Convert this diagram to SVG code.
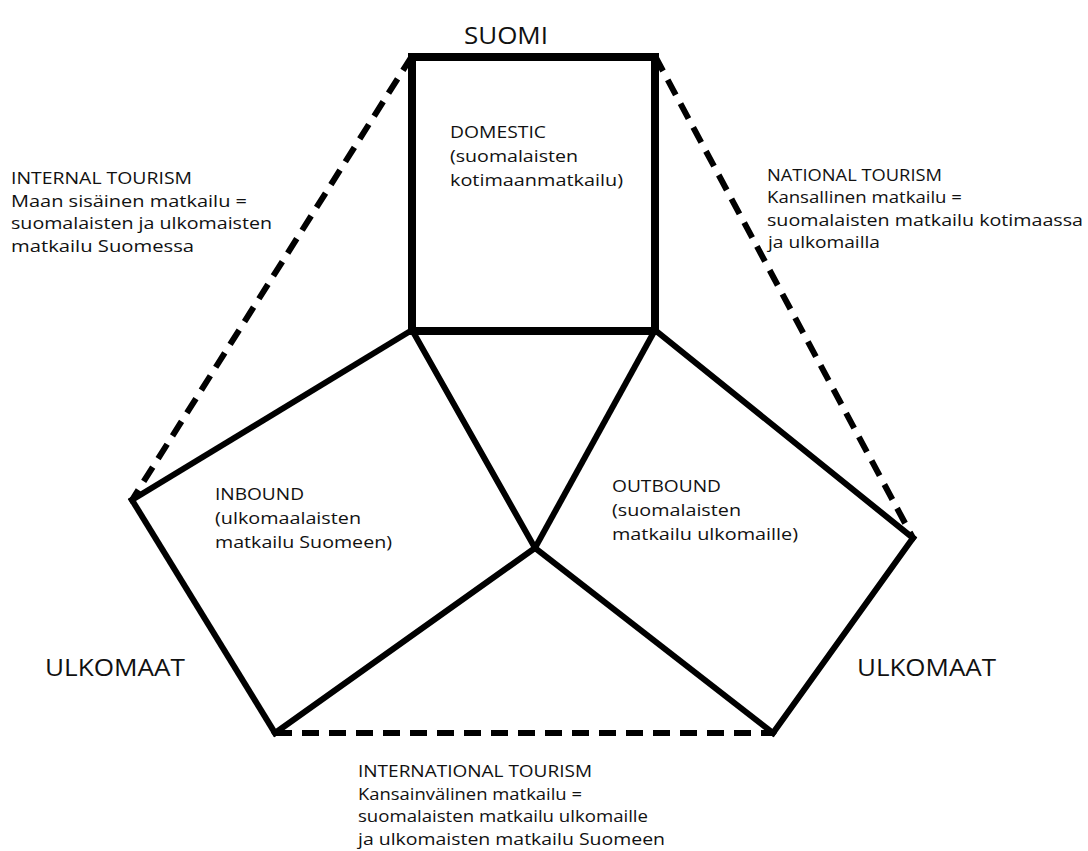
<svg xmlns="http://www.w3.org/2000/svg" width="1088" height="851" viewBox="0 0 1088 851">
<style>
  .edge { stroke: #000; fill: none; stroke-linecap: square; stroke-linejoin: miter; }
  .thick { stroke-width: 8; }
  .solid { stroke-width: 6; }
  .dash { stroke-width: 6; stroke-dasharray: 17 10; stroke-linecap: butt; }
  .lbl { font-family: "Open Sans", "Noto Sans", sans-serif; font-size: 17px; font-weight: 500; fill: #111; }
  .big { font-family: "Open Sans", "Noto Sans", sans-serif; font-size: 24px; fill: #111; }
</style>
<rect width="1088" height="851" fill="#fff"/>
<g id="connectors">
  <line class="edge dash" x1="412" y1="56" x2="132" y2="500"/>
  <line class="edge dash" x1="655" y1="56" x2="913" y2="538"/>
  <line class="edge dash" x1="275" y1="733" x2="773" y2="733"/>
  <line class="edge solid" x1="412" y1="330" x2="132" y2="500"/>
  <line class="edge solid" x1="132" y1="500" x2="275" y2="733"/>
  <line class="edge solid" x1="275" y1="733" x2="535" y2="548"/>
  <line class="edge solid" x1="412" y1="330" x2="535" y2="548"/>
  <line class="edge solid" x1="655" y1="330" x2="535" y2="548"/>
  <line class="edge solid" x1="655" y1="330" x2="913" y2="538"/>
  <line class="edge solid" x1="913" y1="538" x2="773" y2="733"/>
  <line class="edge solid" x1="773" y1="733" x2="535" y2="548"/>
</g>
<g id="domestic">
  <rect class="edge thick" x="412" y="57" width="243" height="274"/>
  <text class="lbl" x="450" y="138" textLength="96" lengthAdjust="spacingAndGlyphs">DOMESTIC</text>
  <text class="lbl" x="450" y="162" textLength="128" lengthAdjust="spacingAndGlyphs">(suomalaisten</text>
  <text class="lbl" x="450" y="186" textLength="173" lengthAdjust="spacingAndGlyphs">kotimaanmatkailu)</text>
</g>
<g id="inbound">
  <text class="lbl" x="215" y="500" textLength="89" lengthAdjust="spacingAndGlyphs">INBOUND</text>
  <text class="lbl" x="215" y="524" textLength="146" lengthAdjust="spacingAndGlyphs">(ulkomaalaisten</text>
  <text class="lbl" x="215" y="548" textLength="177" lengthAdjust="spacingAndGlyphs">matkailu Suomeen)</text>
</g>
<g id="outbound">
  <text class="lbl" x="612" y="492" textLength="109" lengthAdjust="spacingAndGlyphs">OUTBOUND</text>
  <text class="lbl" x="612" y="516" textLength="129" lengthAdjust="spacingAndGlyphs">(suomalaisten</text>
  <text class="lbl" x="612" y="540" textLength="186" lengthAdjust="spacingAndGlyphs">matkailu ulkomaille)</text>
</g>
<g id="suomi">
  <text class="big" x="464" y="44" textLength="84" lengthAdjust="spacingAndGlyphs">SUOMI</text>
</g>
<g id="ulkomaat-left">
  <text class="big" x="45" y="676" textLength="140" lengthAdjust="spacingAndGlyphs">ULKOMAAT</text>
</g>
<g id="ulkomaat-right">
  <text class="big" x="857" y="676" textLength="139" lengthAdjust="spacingAndGlyphs">ULKOMAAT</text>
</g>
<g id="internal">
  <text class="lbl" x="11" y="184" textLength="181" lengthAdjust="spacingAndGlyphs">INTERNAL TOURISM</text>
  <text class="lbl" x="11" y="207" textLength="236" lengthAdjust="spacingAndGlyphs">Maan sisäinen matkailu =</text>
  <text class="lbl" x="11" y="229" textLength="261" lengthAdjust="spacingAndGlyphs">suomalaisten ja ulkomaisten</text>
  <text class="lbl" x="11" y="252" textLength="183" lengthAdjust="spacingAndGlyphs">matkailu Suomessa</text>
</g>
<g id="national">
  <text class="lbl" x="767" y="181" textLength="175" lengthAdjust="spacingAndGlyphs">NATIONAL TOURISM</text>
  <text class="lbl" x="767" y="203" textLength="195" lengthAdjust="spacingAndGlyphs">Kansallinen matkailu =</text>
  <text class="lbl" x="767" y="226" textLength="316" lengthAdjust="spacingAndGlyphs">suomalaisten matkailu kotimaassa</text>
  <text class="lbl" x="768" y="248" textLength="112" lengthAdjust="spacingAndGlyphs">ja ulkomailla</text>
</g>
<g id="international">
  <text class="lbl" x="358" y="777" textLength="234" lengthAdjust="spacingAndGlyphs">INTERNATIONAL TOURISM</text>
  <text class="lbl" x="358" y="800" textLength="224" lengthAdjust="spacingAndGlyphs">Kansainvälinen matkailu =</text>
  <text class="lbl" x="358" y="822" textLength="290" lengthAdjust="spacingAndGlyphs">suomalaisten matkailu ulkomaille</text>
  <text class="lbl" x="358" y="845" textLength="307" lengthAdjust="spacingAndGlyphs">ja ulkomaisten matkailu Suomeen</text>
</g>
</svg>
